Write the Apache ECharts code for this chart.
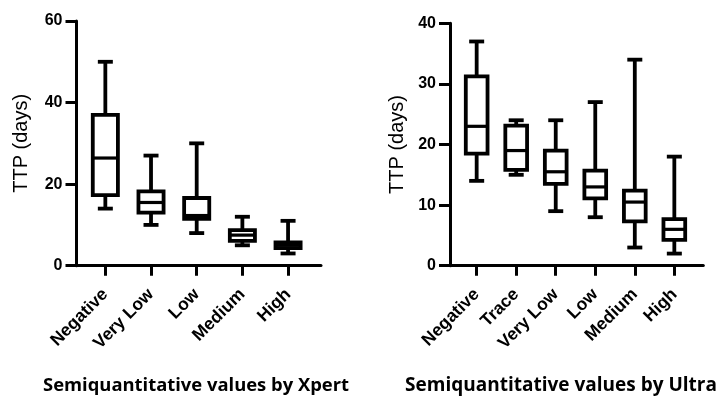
<!DOCTYPE html>
<html>
<head>
<meta charset="utf-8">
<script src="https://cdn.jsdelivr.net/npm/echarts@6/dist/echarts.min.js"></script>
<style>
html,body{margin:0;padding:0;background:#fff;}
#chart{width:720px;height:396px;}
</style>
</head>
<body>
<div id="chart"></div>
<script>
// ---- Data: left panel (Xpert) ----
const xpertCategories = ['Negative', 'Very Low', 'Low', 'Medium', 'High'];
const xpertMin    = [14, 10, 8, 5, 3];
const xpertQ1     = [17.3, 13, 11.5, 6.1, 4.3];
const xpertMedian = [26.4, 15.5, 12.3, 7.5, 5];
const xpertQ3     = [37, 18.2, 16.6, 8.7, 5.7];
const xpertMax    = [50, 27, 30, 12, 11];
const xpertTicks  = [0, 20, 40, 60];

// ---- Data: right panel (Ultra) ----
const ultraCategories = ['Negative', 'Trace', 'Very Low', 'Low', 'Medium', 'High'];
const ultraMin    = [14, 15, 9, 8, 3, 2];
const ultraQ1     = [18.5, 15.8, 13.5, 11.1, 7.3, 4.25];
const ultraMedian = [23, 19, 15.5, 13, 10.5, 6];
const ultraQ3     = [31.25, 23.1, 19, 15.7, 12.4, 7.7];
const ultraMax    = [37, 24, 24, 27, 34, 18];
const ultraTicks  = [0, 10, 20, 30, 40];

const yName = 'TTP (days)';
const xpertTitle = 'Semiquantitative values by Xpert';
const ultraTitle = 'Semiquantitative values by Ultra';

function buildData(cats, mn, q1, md, q3, mx) {
  return cats.map((c, i) => [i, mn[i], q1[i], md[i], q3[i], mx[i]]);
}

const LW = 3.8;
function renderBox(params, api) {
  const x = api.value(0);
  const pMin = api.coord([x, api.value(1)]);
  const pQ1 = api.coord([x, api.value(2)]);
  const pMed = api.coord([x, api.value(3)]);
  const pQ3 = api.coord([x, api.value(4)]);
  const pMax = api.coord([x, api.value(5)]);
  const band = api.size([1, 0])[0];
  const bw = band * 0.55;
  const capW = 15;
  const cx = pMed[0];
  const s = { stroke: '#000', lineWidth: LW, fill: null };
  return {
    type: 'group',
    children: [
      { type: 'line', shape: { x1: cx, y1: pQ3[1], x2: cx, y2: pMax[1] }, style: s },
      { type: 'line', shape: { x1: cx, y1: pQ1[1], x2: cx, y2: pMin[1] }, style: s },
      { type: 'line', shape: { x1: cx - capW / 2, y1: pMax[1], x2: cx + capW / 2, y2: pMax[1] }, style: s },
      { type: 'line', shape: { x1: cx - capW / 2, y1: pMin[1], x2: cx + capW / 2, y2: pMin[1] }, style: s },
      { type: 'rect', shape: { x: cx - bw / 2, y: pQ3[1], width: bw, height: pQ1[1] - pQ3[1] },
        style: { stroke: '#000', lineWidth: LW, fill: '#fff' } },
      { type: 'line', shape: { x1: cx - bw / 2, y1: pMed[1], x2: cx + bw / 2, y2: pMed[1] },
        style: { stroke: '#000', lineWidth: 3.2 } }
    ]
  };
}

const FONT = 'Liberation Sans';

function catAxis(gridIndex, cats) {
  return {
    type: 'category', gridIndex: gridIndex, data: cats, boundaryGap: true,
    axisLine: { show: false },
    axisTick: { show: true, alignWithLabel: true, interval: 0, length: 10, lineStyle: { color: '#000', width: 3 } },
    axisLabel: { interval: 0, rotate: 45, margin: 26, color: '#000', fontFamily: FONT, fontWeight: 'bold', fontSize: 17.5 },
    splitLine: { show: false }
  };
}
function helperXAxis(gridIndex) {
  return {
    type: 'value', gridIndex: gridIndex, min: 0, max: 1,
    axisLine: { show: true, onZero: false, lineStyle: { color: '#000', width: 3 } },
    axisTick: { show: false }, axisLabel: { show: false }, splitLine: { show: false }
  };
}
function valAxis(gridIndex, ticks, offset, nameGap) {
  return {
    type: 'value', gridIndex: gridIndex, min: ticks[0], max: ticks[ticks.length - 1],
    interval: ticks[1] - ticks[0], offset: offset,
    name: yName, nameLocation: 'middle', nameGap: nameGap, nameRotate: 90,
    nameTextStyle: { color: '#000', fontFamily: FONT, fontSize: 20, fontWeight: 'normal' },
    axisLine: { show: true, lineStyle: { color: '#000', width: 3 } },
    axisTick: { show: true, length: 11, lineStyle: { color: '#000', width: 3 } },
    axisLabel: { color: '#000', fontFamily: FONT, fontWeight: 'bold', fontSize: 16, margin: 14 },
    splitLine: { show: false }
  };
}
function hiddenY(gridIndex) {
  return { type: 'value', gridIndex: gridIndex, min: 0, max: 1, show: false };
}

const option = {
  backgroundColor: '#fff',
  animation: false,
  grid: [
    { left: 82.5, width: 228.4, top: 21, bottom: 130.3 },
    { left: 76.5, width: 244.5, top: 21, bottom: 130.3 },
    { left: 456.9, width: 237.2, top: 23.3, bottom: 130.3 },
    { left: 450, width: 253.3, top: 23.3, bottom: 130.3 }
  ],
  xAxis: [
    catAxis(0, xpertCategories),
    helperXAxis(1),
    catAxis(2, ultraCategories),
    helperXAxis(3)
  ],
  yAxis: [
    valAxis(0, xpertTicks, 6, 45),
    hiddenY(1),
    valAxis(2, ultraTicks, 6.9, 43),
    hiddenY(3)
  ],
  series: [
    {
      type: 'custom', xAxisIndex: 0, yAxisIndex: 0,
      encode: { x: 0, y: [1, 2, 3, 4, 5] },
      renderItem: renderBox,
      data: buildData(xpertCategories, xpertMin, xpertQ1, xpertMedian, xpertQ3, xpertMax)
    },
    {
      type: 'custom', xAxisIndex: 2, yAxisIndex: 2,
      encode: { x: 0, y: [1, 2, 3, 4, 5] },
      renderItem: renderBox,
      data: buildData(ultraCategories, ultraMin, ultraQ1, ultraMedian, ultraQ3, ultraMax)
    }
  ],
  graphic: [
    { type: 'text', x: 196, y: 386,
      style: { text: xpertTitle, textAlign: 'center', textVerticalAlign: 'middle', fill: '#000',
               font: 'bold 18.4px "Open Sans", sans-serif' } },
    { type: 'text', x: 561, y: 386,
      style: { text: ultraTitle, textAlign: 'center', textVerticalAlign: 'middle', fill: '#000',
               font: 'bold 19px "Open Sans", sans-serif' } }
  ]
};

const chart = echarts.init(document.getElementById('chart'), null, { renderer: 'canvas' });
chart.setOption(option);
</script>
</body>
</html>
